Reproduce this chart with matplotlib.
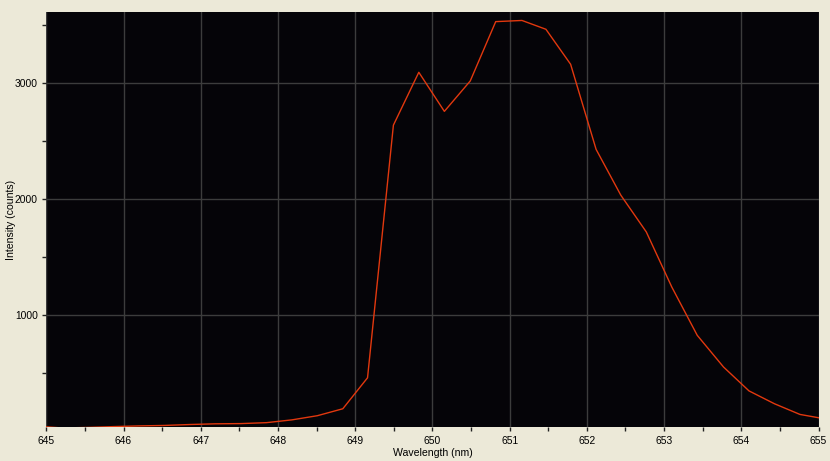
import matplotlib
matplotlib.use("Agg")
import matplotlib.pyplot as plt
from matplotlib.ticker import MultipleLocator

wavelength = [644.88, 645.21, 645.54, 645.87, 646.20, 646.53, 646.86, 647.19,
              647.52, 647.85, 648.18, 648.51, 648.84, 649.16, 649.495, 649.824,
              650.155, 650.49, 650.82, 651.16, 651.47, 651.79, 652.12, 652.44,
              652.77, 653.10, 653.43, 653.77, 654.10, 654.43, 654.76, 655.09]
intensity = [38, 22, 27, 34, 40, 44, 52, 58,
             60, 68, 92, 128, 188, 455, 2634, 3090,
             2753, 3015, 3527, 3537, 3461, 3159, 2425, 2030,
             1713, 1238, 821, 548, 342, 231, 139, 100]

x_ticks = [645, 646, 647, 648, 649, 650, 651, 652, 653, 654, 655]
y_ticks = [1000, 2000, 3000]

bg = "#ECE9D8"
fig = plt.figure(figsize=(8.30, 4.61), dpi=100, facecolor=bg)
ax = fig.add_axes([46.3 / 830, (461 - 427.3) / 461, 772.2 / 830, 415.3 / 461])
ax.set_facecolor("#050408")

ax.plot(wavelength, intensity, color="#E2380E", linewidth=1.0, zorder=3)

ax.set_xlim(645, 655)
ax.set_ylim(28, 3610)
ax.set_xticks(x_ticks)
ax.set_xticklabels([str(t) for t in x_ticks])
ax.set_yticks(y_ticks)
ax.set_yticklabels([str(t) for t in y_ticks])
ax.xaxis.set_minor_locator(MultipleLocator(0.5))
ax.yaxis.set_minor_locator(MultipleLocator(500))

ax.grid(True, which="major", color="#3C3C3C", linewidth=1.0, zorder=1)

for s in ax.spines.values():
    s.set_visible(False)

font = "Liberation Sans"
ax.tick_params(axis="both", which="major", direction="out", length=3, width=1,
               color="#222222", labelsize=7.4, labelcolor="black", pad=3)
ax.tick_params(axis="both", which="minor", direction="out", length=3, width=1,
               color="#222222")
for lab in ax.get_xticklabels() + ax.get_yticklabels():
    lab.set_fontfamily(font)

ax.set_xlabel("Wavelength (nm)", fontsize=7.6, fontfamily=font, labelpad=2)
ax.set_ylabel("Intensity (counts)", fontsize=7.6, fontfamily=font)
ax.yaxis.set_label_coords((16 - 46.3) / 772.2, 0.5)

fig.savefig("out.png", dpi=100, facecolor=bg)
